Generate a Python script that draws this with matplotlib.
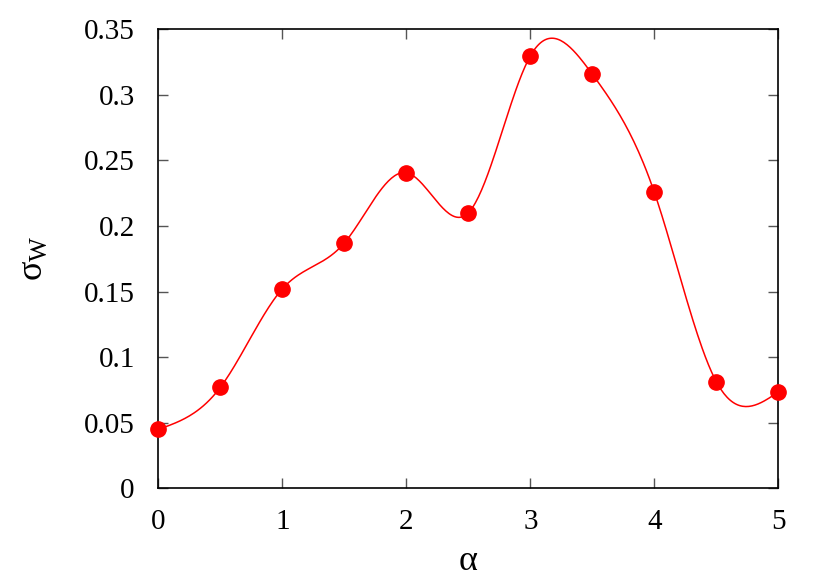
import numpy as np
import matplotlib
matplotlib.use("Agg")
import matplotlib.pyplot as plt

plt.rcParams["font.family"] = ["Liberation Serif", "DejaVu Serif"]
plt.rcParams["mathtext.fontset"] = "custom"
plt.rcParams["mathtext.rm"] = "Liberation Serif"
plt.rcParams["mathtext.it"] = "Liberation Serif"

# data
alpha = [0.0, 0.5, 1.0, 1.5, 2.0, 2.5, 3.0, 3.5, 4.0, 4.5, 5.0]
sigma_w = [0.045, 0.077, 0.152, 0.187, 0.2405, 0.210, 0.3295, 0.3155, 0.2255, 0.0812, 0.0735]
x_ticks = [0, 1, 2, 3, 4, 5]
y_ticks = [0, 0.05, 0.1, 0.15, 0.2, 0.25, 0.3, 0.35]
y_ticklabels = ["0", "0.05", "0.1", "0.15", "0.2", "0.25", "0.3", "0.35"]


# natural cubic spline (like gnuplot "smooth csplines")
def natural_spline(x, y, xs):
    x = np.asarray(x, float)
    y = np.asarray(y, float)
    n = len(x)
    h = np.diff(x)
    A = np.zeros((n, n))
    b = np.zeros(n)
    A[0, 0] = 1
    A[-1, -1] = 1
    for i in range(1, n - 1):
        A[i, i - 1] = h[i - 1]
        A[i, i] = 2 * (h[i - 1] + h[i])
        A[i, i + 1] = h[i]
        b[i] = 3 * ((y[i + 1] - y[i]) / h[i] - (y[i] - y[i - 1]) / h[i - 1])
    c = np.linalg.solve(A, b)
    idx = np.clip(np.searchsorted(x, xs) - 1, 0, n - 2)
    dx = xs - x[idx]
    hi = h[idx]
    bb = (y[idx + 1] - y[idx]) / hi - hi * (2 * c[idx] + c[idx + 1]) / 3
    d = (c[idx + 1] - c[idx]) / (3 * hi)
    return y[idx] + bb * dx + c[idx] * dx ** 2 + d * dx ** 3


xs = np.linspace(alpha[0], alpha[-1], 400)
ys = natural_spline(alpha, sigma_w, xs)

fig = plt.figure(figsize=(8.3, 5.81), dpi=100)
ax = fig.add_axes([0.1908, 0.1594, 0.7470, 0.7907])

ax.plot(xs, ys, color="red", lw=1.1, zorder=2)
ax.plot(alpha, sigma_w, "o", color="red", ms=11, zorder=3, clip_on=False)

ax.set_xlim(0, 5)
ax.set_ylim(0, 0.35)
ax.set_xticks(x_ticks)
ax.set_yticks(y_ticks)
ax.set_yticklabels(y_ticklabels)
ax.tick_params(direction="in", length=7, width=1, color="#555555",
               top=True, right=True, labelsize=21)
ax.tick_params(axis="x", pad=15)
ax.tick_params(axis="y", pad=17)
for s in ax.spines.values():
    s.set_linewidth(1.2)

ax.set_xlabel(r"$\mathregular{\alpha}$", fontsize=26, labelpad=7)
ax.set_ylabel(r"$\mathregular{\sigma_W}$", fontsize=26, labelpad=24)

fig.savefig("out.png", dpi=100)
